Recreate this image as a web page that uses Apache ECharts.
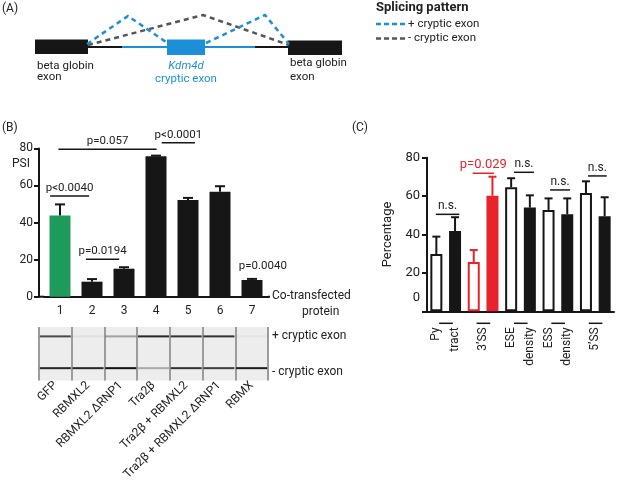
<!DOCTYPE html>
<html><head><meta charset="utf-8">
<script src="https://cdn.jsdelivr.net/npm/echarts@6/dist/echarts.min.js"></script>
<style>html,body{margin:0;padding:0;background:#fff}#c{width:617px;height:483px}</style>
</head><body><div id="c"></div>
<script>
// ---------- Panel B data ----------
const bCategories = ['1','2','3','4','5','6','7'];
const bValues = [43.8, 8.1, 15.1, 75.7, 52.1, 56.6, 9.0];
const bErrorTops = [49.8, 9.5, 15.9, 76.1, 53.3, 59.6, 9.6];
const bTickValues = [0, 20, 40, 60, 80];
const bProteins = ['GFP','RBMXL2','RBMXL2 \u0394RNP1','Tra2\u03b2','Tra2\u03b2 + RBMXL2','Tra2\u03b2 + RBMXL2 \u0394RNP1','RBMX'];
const gelPlusBand = [0.75, 0.06, 0.35, 0.9, 0.85, 0.85, 0.04];
const gelMinusBand = [0.9, 0.9, 1.0, 0.3, 0.85, 0.8, 0.95];
const bAnnotations = [
  {text:'p<0.0040', x1:-0.31, x2:0.91, y:54.3},
  {text:'p=0.0194', x1:0.81, x2:1.85, y:20.2},
  {text:'p=0.057', x1:-0.05, x2:3.02, y:79.5},
  {text:'p<0.0001', x1:3.18, x2:4.22, y:83.0},
  {text:'p=0.0040', x1:5.84, x2:6.84, y:12.0, noLine:true}
];
// ---------- Panel C data ----------
const cCategories = ['0','1','2','3','4','5','6','7','8','9'];
const cLabels = ['Py','tract','','','ESE','density','ESS','density','',''];
const cGroupLabels = [{text:"3\u2019SS", at:2.5}, {text:"5\u2019SS", at:8.5}];
const cValues = [29.8, 41.8, 25.7, 60.2, 64.6, 54.0, 52.8, 50.5, 61.6, 49.5];
const cErrorTops = [38.9, 49.0, 31.9, 70.1, 69.3, 60.4, 58.8, 58.8, 67.7, 59.4];
const cStyles = ['open','solid','openRed','solidRed','open','solid','open','solid','open','solid'];
const cTickValues = [0, 20, 40, 60, 80];
const cAnnotations = [
  {text:'n.s.', x1:-0.03, x2:1.23, y:50.5},
  {text:'p=0.029', x1:1.94, x2:3.08, y:71.9, red:true},
  {text:'n.s.', x1:4.15, x2:5.22, y:72.4},
  {text:'n.s.', x1:6.08, x2:7.15, y:63.2},
  {text:'n.s.', x1:8.11, x2:9.11, y:70.5}
];

const FONT = 'Roboto, "Noto Sans", sans-serif';
const TXT = '#222';
const BLK = '#161616';
const RED = '#e8232b';
const GREEN = '#1e9a5b';
const BLUE = '#1d8fd8';

const styleMap = {
  open: {color:'#fff', borderColor:BLK, borderWidth:2},
  solid: {color:BLK},
  openRed: {color:'#fff', borderColor:RED, borderWidth:2},
  solidRed: {color:RED}
};

function errRender(capHalf, colorFn){
  return function(params, api){
    const i = api.value(0), v = api.value(1), t = api.value(2);
    const p0 = api.coord([i, v]), p1 = api.coord([i, t]);
    const col = colorFn(params.dataIndex);
    return {type:'group', children:[
      {type:'line', shape:{x1:p0[0], y1:p0[1], x2:p1[0], y2:p1[1]}, style:{stroke:col, lineWidth:2}},
      {type:'line', shape:{x1:p1[0]-capHalf, y1:p1[1], x2:p1[0]+capHalf, y2:p1[1]}, style:{stroke:col, lineWidth:2}}
    ]};
  };
}

const chart = echarts.init(document.getElementById('c'), null, {renderer:'canvas'});
const axisLineStyle = {color:BLK, width:2};

chart.setOption({
  animation:false,
  backgroundColor:'#fff',
  textStyle:{fontFamily:FONT},
  grid:[
    {left:44, top:148.4, width:224, height:148.3},
    {left:427, top:157.7, width:187, height:153.6},
    {left:39, top:327, width:229, height:59, show:true, backgroundColor:'#ededed', borderWidth:0}
  ],
  xAxis:[
    {gridIndex:0, type:'category', data:bCategories,
     axisLine:{lineStyle:axisLineStyle},
     axisTick:{alignWithLabel:true, length:4, lineStyle:{width:2, color:BLK}},
     axisLabel:{fontSize:12, color:TXT, margin:8, fontFamily:FONT}},
    {gridIndex:1, type:'category', data:cCategories,
     axisLine:{lineStyle:axisLineStyle},
     axisTick:{alignWithLabel:true, length:5, lineStyle:{width:2, color:BLK}},
     axisLabel:{rotate:90, fontSize:12, color:TXT, margin:16, fontFamily:FONT,
       formatter:(v, i)=>cLabels[i]}},
    {gridIndex:2, type:'category', data:bProteins,
     axisLine:{show:false}, axisTick:{show:false},
     splitLine:{show:true, lineStyle:{color:'#9c9c9c', width:2}},
     axisLabel:{rotate:45, fontSize:12, color:TXT, margin:3, fontFamily:FONT}}
  ],
  yAxis:[
    {gridIndex:0, type:'value', min:bTickValues[0], max:bTickValues[bTickValues.length-1], interval:20, offset:5,
     axisLine:{show:true, lineStyle:axisLineStyle},
     axisTick:{show:true, length:5, lineStyle:{width:2, color:BLK}},
     splitLine:{show:false},
     axisLabel:{fontSize:12, color:TXT, margin:6, fontFamily:FONT}},
    {gridIndex:1, type:'value', min:cTickValues[0], max:cTickValues[cTickValues.length-1], interval:20,
     name:'Percentage', nameLocation:'middle', nameGap:33,
     nameTextStyle:{fontSize:13, color:TXT, fontFamily:FONT},
     axisLine:{show:true, lineStyle:axisLineStyle},
     axisTick:{show:true, length:5, lineStyle:{width:2, color:BLK}},
     splitLine:{show:false},
     axisLabel:{fontSize:13, color:TXT, margin:7, fontFamily:FONT,
       formatter:v=> v===0 ? '{z|0}' : String(v),
       rich:{z:{fontSize:13, color:TXT, padding:[0,0,27,0], fontFamily:FONT}}}},
    {gridIndex:2, type:'value', min:0, max:1, show:false}
  ],
  series:[
    {type:'bar', xAxisIndex:0, yAxisIndex:0, barWidth:21,
     data:bValues.map((v,i)=>({value:v, itemStyle:{color: i===0 ? GREEN : BLK}}))},
    {type:'custom', xAxisIndex:0, yAxisIndex:0, z:5,
     renderItem:errRender(5, ()=>BLK),
     data:bValues.map((v,i)=>[i, v, bErrorTops[i]])},
    {type:'bar', xAxisIndex:1, yAxisIndex:1, barWidth:12,
     data:cValues.map((v,i)=>({value:v, itemStyle:styleMap[cStyles[i]]}))},
    {type:'custom', xAxisIndex:1, yAxisIndex:1, z:5,
     renderItem:errRender(4, i=> (cStyles[i].indexOf('Red')>=0 ? RED : BLK)),
     data:cValues.map((v,i)=>[i, v, cErrorTops[i]])},
    {type:'scatter', xAxisIndex:2, yAxisIndex:2, symbol:'rect', symbolSize:[31,2], silent:true,
     itemStyle:{color:'#111'},
     data:[].concat(
       gelPlusBand.map((o,i)=>({value:[i, 0.825], itemStyle:{opacity:o}})),
       gelMinusBand.map((o,i)=>({value:[i, 0.232], itemStyle:{opacity:o}}))
     )}
  ]
});

function toPx(grid, x, y){
  const a = chart.convertToPixel({gridIndex:grid}, [0, y]);
  const b = chart.convertToPixel({gridIndex:grid}, [1, y]);
  return [a[0] + (b[0]-a[0])*x, a[1]];
}
function txt(t, x, y, opt){
  opt = opt || {};
  return {type:'text', x:x, y:y, rotation:opt.rotation||0, style:{text:t,
    font:(opt.italic?'italic ':'') + (opt.bold?'bold ':'') + (opt.size||12) + 'px ' + FONT,
    fill:opt.color||TXT, textAlign:opt.align||'left', textVerticalAlign:opt.valign||'middle'}};
}
function ln(x1,y1,x2,y2,color,w,dash){
  return {type:'line', shape:{x1:x1,y1:y1,x2:x2,y2:y2}, style:{stroke:color, lineWidth:w, lineDash:dash||null}};
}
function poly(pts,color,w,dash){
  return {type:'polyline', shape:{points:pts}, style:{stroke:color, lineWidth:w, lineDash:dash||null, fill:null}};
}

const g = [];
// Panel labels
g.push(txt('(A)', 2, 9, {size:12}));
g.push(txt('(B)', 2, 128, {size:12}));
g.push(txt('(C)', 352, 128, {size:12}));
// Panel A diagram
g.push({type:'rect', shape:{x:35, y:39.5, width:53, height:14.5}, style:{fill:BLK}});
g.push({type:'rect', shape:{x:288, y:40.5, width:54, height:14.5}, style:{fill:BLK}});
g.push(ln(88, 47, 122, 47, BLK, 2));
g.push(ln(122, 47, 167, 47, BLUE, 2));
g.push(ln(205, 47, 255, 47, BLUE, 2));
g.push(ln(255, 47, 288, 47, BLK, 2));
g.push({type:'rect', shape:{x:167, y:39.5, width:38, height:15.5}, style:{fill:BLUE}});
g.push(poly([[88,45],[203,15],[289,45]], '#555', 2.5, [5,4]));
g.push(poly([[87,44],[128,16],[166,42]], BLUE, 2.5, [5,4]));
g.push(poly([[206,43],[265,15],[289,44]], BLUE, 2.5, [5,4]));
g.push(txt('beta globin', 37, 66, {size:11.5}));
g.push(txt('exon', 37, 77.5, {size:11.5}));
g.push(txt('beta globin', 290, 63, {size:11.5}));
g.push(txt('exon', 290, 77, {size:11.5}));
g.push(txt('Kdm4d', 186, 66, {size:11.5, italic:true, color:BLUE, align:'center'}));
g.push(txt('cryptic exon', 186, 79, {size:11.5, color:BLUE, align:'center'}));
// Legend
g.push(txt('Splicing pattern', 376, 8, {size:13, bold:true}));
g.push(ln(376, 24, 406, 24, BLUE, 2.5, [5,3]));
g.push(txt('+ cryptic exon', 408, 24, {size:11.5}));
g.push(ln(376, 38.5, 406, 38.5, '#555', 2.5, [5,3]));
g.push(txt('- cryptic exon', 408, 38, {size:11.5}));
// Panel B extra texts
g.push(txt('PSI', 12, 164, {size:12}));
g.push(txt('Co-transfected', 272, 296, {size:12}));
g.push(txt('protein', 302, 312, {size:12}));
g.push(txt('+ cryptic exon', 272, 336, {size:12}));
g.push(txt('- cryptic exon', 272, 372, {size:12}));
// join x axis to the offset y axis and extend slightly right
(function(){
  const p0 = toPx(0, -0.5, 0), p1 = toPx(0, 6.5, 0);
  g.push(ln(p0[0]-6, p0[1], p0[0], p0[1], BLK, 2));
  g.push(ln(p1[0], p1[1], p1[0]+2, p1[1], BLK, 2));
})();
bAnnotations.forEach(a=>{
  const p1 = toPx(0, a.x1, a.y), p2 = toPx(0, a.x2, a.y);
  if(!a.noLine) g.push(ln(p1[0], p1[1], p2[0], p2[1], BLK, 1.5));
  g.push(txt(a.text, (p1[0]+p2[0])/2, p1[1]-8, {size:11.5, align:'center'}));
});
// Panel C extra
cAnnotations.forEach(a=>{
  const p1 = toPx(1, a.x1, a.y), p2 = toPx(1, a.x2, a.y);
  const col = a.red ? RED : BLK;
  g.push(ln(p1[0], p1[1], p2[0], p2[1], col, 1.5));
  g.push(txt(a.text, (p1[0]+p2[0])/2, p1[1]-(a.red?9:8), {size:a.red?13:12, align:'center', color:a.red?RED:TXT}));
});
for(let k=0;k<5;k++){
  const p1 = toPx(1, 2*k+0.15, 0), p2 = toPx(1, 2*k+0.88, 0);
  g.push(ln(p1[0], p1[1]+12, p2[0], p2[1]+12, BLK, 1.5));
}
cGroupLabels.forEach(l=>{
  const p = toPx(1, l.at, 0);
  g.push(txt(l.text, p[0], p[1]+16, {size:12, rotation:Math.PI/2, align:'right'}));
});

chart.setOption({graphic:g});
</script></body></html>
